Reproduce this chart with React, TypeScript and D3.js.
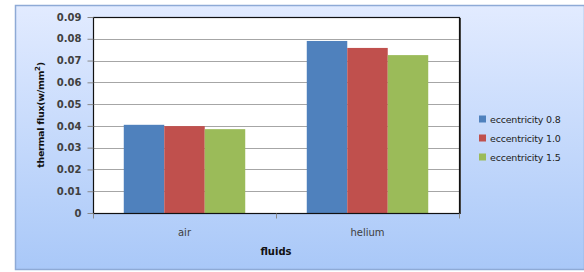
import { useEffect, useRef } from "react";
import * as d3 from "d3";

const categories = ["air", "helium"];
const seriesNames = ["eccentricity 0.8", "eccentricity 1.0", "eccentricity 1.5"];
const seriesColors = ["#4f81bd", "#c0504d", "#9bbb59"];
const values = [
  [0.0405, 0.079],
  [0.0399, 0.0758],
  [0.0385, 0.0725],
];
const yTicks = [0, 0.01, 0.02, 0.03, 0.04, 0.05, 0.06, 0.07, 0.08, 0.09];

export default function App() {
  const svgRef = useRef<SVGSVGElement | null>(null);

  useEffect(() => {
    const svg = d3.select(svgRef.current);
    svg.selectAll("*").remove();
    const width = 584;
    const height = 272;
    const plot = { left: 93, top: 17, right: 459, bottom: 213 };
    const font = "DejaVu Sans, Verdana, sans-serif";

    const defs = svg.append("defs");
    const grad = defs.append("linearGradient")
      .attr("id", "bg")
      .attr("x1", 0).attr("y1", 0).attr("x2", 0).attr("y2", 1);
    grad.append("stop").attr("offset", "0%").attr("stop-color", "#e2ebff");
    grad.append("stop").attr("offset", "100%").attr("stop-color", "#a9c8f8");

    svg.append("rect")
      .attr("x", 15.5).attr("y", 5.5)
      .attr("width", width - 15).attr("height", 264)
      .attr("fill", "url(#bg)")
      .attr("stroke", "#8eaad6")
      .attr("stroke-width", 1.5);

    const x0 = d3.scaleBand<string>()
      .domain(categories)
      .range([plot.left, plot.right]);
    const x1 = d3.scaleBand<number>()
      .domain(d3.range(seriesNames.length))
      .range([0, x0.bandwidth()])
      .paddingOuter(0.76)
      .paddingInner(0);
    const y = d3.scaleLinear()
      .domain([0, 0.09])
      .range([plot.bottom, plot.top]);

    svg.append("rect")
      .attr("x", plot.left).attr("y", plot.top)
      .attr("width", plot.right - plot.left).attr("height", plot.bottom - plot.top)
      .attr("fill", "white");

    // gridlines
    svg.append("g")
      .selectAll("line")
      .data(yTicks.slice(1, -1))
      .enter()
      .append("line")
      .attr("x1", plot.left).attr("x2", plot.right)
      .attr("y1", (d) => Math.round(y(d)) + 0.5)
      .attr("y2", (d) => Math.round(y(d)) + 0.5)
      .attr("stroke", "#a6a6a6")
      .attr("stroke-width", 1);

    // bars
    seriesNames.forEach((_, si) => {
      svg.append("g")
        .selectAll("rect")
        .data(categories)
        .enter()
        .append("rect")
        .attr("x", (c) => (x0(c) || 0) + (x1(si) || 0))
        .attr("y", (c, ci) => y(values[si][ci]))
        .attr("width", x1.bandwidth())
        .attr("height", (c, ci) => plot.bottom - y(values[si][ci]))
        .attr("fill", seriesColors[si]);
    });

    // plot border
    svg.append("rect")
      .attr("x", plot.left + 0.5).attr("y", plot.top + 0.5)
      .attr("width", plot.right - plot.left).attr("height", plot.bottom - plot.top)
      .attr("fill", "none")
      .attr("stroke", "#111")
      .attr("stroke-width", 1.2);
    svg.append("line")
      .attr("x1", plot.right + 1.5).attr("x2", plot.right + 1.5)
      .attr("y1", plot.top + 1).attr("y2", plot.bottom + 1)
      .attr("stroke", "#444").attr("stroke-width", 1);

    // y axis
    const yAxis = svg.append("g")
      .attr("transform", `translate(${plot.left + 0.5},0)`)
      .call(d3.axisLeft(y).tickValues(yTicks).tickSize(6).tickSizeOuter(0)
        .tickFormat((d) => (d === 0 ? "0" : d3.format(".2f")(d as number))));
    yAxis.select(".domain").remove();
    yAxis.selectAll(".tick line").attr("stroke", "#888");
    yAxis.selectAll(".tick text")
      .attr("x", -12)
      .style("font-family", font)
      .style("font-size", "10px")
      .style("font-weight", "bold")
      .attr("fill", "#404040");

    // x axis
    const xAxis = svg.append("g")
      .attr("transform", `translate(0,${plot.bottom + 0.5})`);
    xAxis.selectAll("line")
      .data([plot.left, ...categories.map((c) => (x0(c) || 0) + x0.bandwidth())])
      .enter()
      .append("line")
      .attr("x1", (d) => d + 0.5).attr("x2", (d) => d + 0.5)
      .attr("y1", 0).attr("y2", 5)
      .attr("stroke", "#888");
    xAxis.selectAll("text")
      .data(categories)
      .enter()
      .append("text")
      .attr("x", (c) => (x0(c) || 0) + x0.bandwidth() / 2)
      .attr("y", 22)
      .attr("text-anchor", "middle")
      .style("font-family", font)
      .style("font-size", "10px")
      .attr("fill", "#404040")
      .text((c) => c);

    svg.append("text")
      .attr("x", (plot.left + plot.right) / 2)
      .attr("y", 255)
      .attr("text-anchor", "middle")
      .style("font-family", font)
      .style("font-size", "10px")
      .style("font-weight", "bold")
      .attr("fill", "#111")
      .text("fluids");

    const yLabel = svg.append("text")
      .attr("transform", `translate(44,${(plot.top + plot.bottom) / 2}) rotate(-90)`)
      .attr("text-anchor", "middle")
      .style("font-family", font)
      .style("font-size", "9.5px")
      .style("font-weight", "bold")
      .style("letter-spacing", "-0.3px")
      .attr("fill", "#111");
    yLabel.append("tspan").text("thermal flux(w/mm");
    yLabel.append("tspan").attr("dy", -4).style("font-size", "7px").text("2");
    yLabel.append("tspan").attr("dy", 4).text(")");

    // legend
    const legend = svg.append("g").attr("transform", "translate(479,119)");
    seriesNames.forEach((name, i) => {
      const row = legend.append("g").attr("transform", `translate(0,${i * 19})`);
      row.append("rect")
        .attr("x", 0).attr("y", -3.5)
        .attr("width", 7).attr("height", 7)
        .attr("fill", seriesColors[i]);
      row.append("text")
        .attr("x", 11).attr("y", 3.5)
        .style("font-family", font)
        .style("font-size", "9.5px")
        .style("letter-spacing", "-0.2px")
        .attr("fill", "#222")
        .text(name);
    });
  }, []);

  return (
    <svg
      ref={svgRef}
      width={584}
      height={272}
      style={{ position: "absolute", left: 0, top: 0 }}
    />
  );
}
